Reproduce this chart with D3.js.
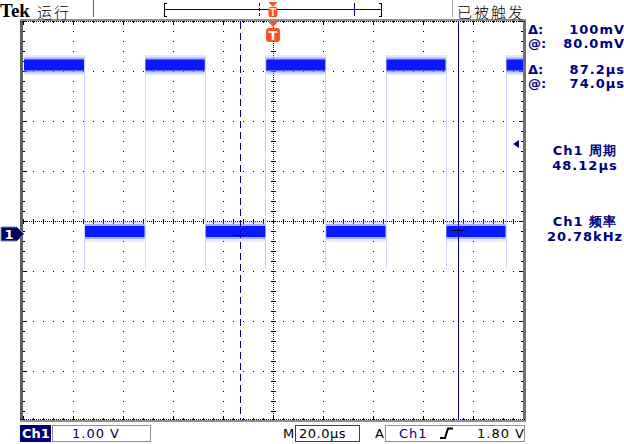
<!DOCTYPE html>
<meta charset="utf-8">
<script src="https://d3js.org/d3.v7.min.js"></script>
<div id="scope"></div>
<style>
body { margin: 0; background: #fff; }
svg { display: block; }
</style>
<script>

// ---- values ----
// edge times in µs relative to the trigger point
var edgeTimes  = [-75.6, -51.4, -27.3, -3.1, 20.9, 45.0, 69.0, 93.0];
var firstLevel = "high";
var highLevel = 3.38, lowLevel = 0.05;          // volts
var cursorTimes  = [-13.2, 74.0];               // µs
var cursorLevels = [-0.02, 0.08];               // V
var triggerLevel = 1.80;                        // V

var readoutLabels = ["Δ:", "@:", "Δ:", "@:"];
var readoutValues = ["100mV", "80.0mV", "87.2µs", "74.0µs"];
var measureLabels = ["Ch1 周期", "Ch1 频率"];
var measureValues = ["48.12µs", "20.78kHz"];

var W = 624, H = 444;
var navy = "#000080", orange = "#ff5020";

var svg = d3.select("#scope").append("svg")
    .attr("width", W).attr("height", H)
    .style("font-family", "'DejaVu Sans', sans-serif");

// screen: 10 div x 8 div, 50px each
var x = d3.scaleLinear().domain([-100, 100]).range([23, 523]);     // 20 µs/div
var y = d3.scaleLinear().domain([-3.74, 4.26]).range([421, 21]);   // 1 V/div, ground at marker
var recBar = d3.scaleLinear().domain([-100, 100]).range([164, 382]);

var g = svg.append("g").attr("shape-rendering", "crispEdges");

// ---- graticule ----
var minorX = d3.range(-100, 100.1, 4);     // every 10px
var minorY = d3.range(0, 40.1, 1).map(function(i){ return 21 + i*10; });
var majorX = d3.range(-80, 81, 20).filter(function(d){ return d != 0; });
var majorY = d3.range(1, 8).map(function(i){ return 21 + i*50; }).filter(function(d){ return d != 221; });

// dots along major grid lines
var dots = [];
majorX.forEach(function(t){ minorY.forEach(function(py){ dots.push([Math.round(x(t)), py]); }); });
majorY.forEach(function(py){ minorX.forEach(function(t){ dots.push([Math.round(x(t)), py]); }); });
g.selectAll("rect.dot").data(dots).enter().append("rect")
    .attr("class", "dot")
    .attr("x", function(d){ return d[0]; }).attr("y", function(d){ return d[1]; })
    .attr("width", 1).attr("height", 1).attr("fill", "#000");

// center cross: fine dotted lines with minor ticks
g.append("line").attr("x1", 23).attr("x2", 523).attr("y1", 221.5).attr("y2", 221.5)
    .attr("stroke", "#000").attr("stroke-dasharray", "1,1");
g.append("line").attr("x1", 273.5).attr("x2", 273.5).attr("y1", 21).attr("y2", 421)
    .attr("stroke", "#000").attr("stroke-dasharray", "1,1");
g.selectAll("line.tx").data(minorX).enter().append("line")
    .attr("class", "tx")
    .attr("x1", function(d){ return Math.round(x(d)) + 0.5; })
    .attr("x2", function(d){ return Math.round(x(d)) + 0.5; })
    .attr("y1", 219).attr("y2", 224).attr("stroke", "#000");
g.selectAll("line.ty").data(minorY).enter().append("line")
    .attr("class", "ty")
    .attr("y1", function(d){ return d + 0.5; }).attr("y2", function(d){ return d + 0.5; })
    .attr("x1", 271).attr("x2", 276).attr("stroke", "#000");

// border ticks
g.selectAll("line.bt").data(minorX).enter().append("line")
    .attr("class", "bt")
    .attr("x1", function(d){ return Math.round(x(d)) + 0.5; })
    .attr("x2", function(d){ return Math.round(x(d)) + 0.5; })
    .attr("y1", 21).attr("y2", function(d){ return d % 20 == 0 ? 25 : 23; }).attr("stroke", "#000");
g.selectAll("line.bb").data(minorX).enter().append("line")
    .attr("class", "bb")
    .attr("x1", function(d){ return Math.round(x(d)) + 0.5; })
    .attr("x2", function(d){ return Math.round(x(d)) + 0.5; })
    .attr("y1", function(d){ return d % 20 == 0 ? 416 : 418; }).attr("y2", 420).attr("stroke", "#000");
g.selectAll("line.bl").data(minorY).enter().append("line")
    .attr("class", "bl")
    .attr("y1", function(d){ return d + 0.5; }).attr("y2", function(d){ return d + 0.5; })
    .attr("x1", 23).attr("x2", function(d){ return (d - 21) % 50 == 0 ? 27 : 25; }).attr("stroke", "#000");
g.selectAll("line.br").data(minorY).enter().append("line")
    .attr("class", "br")
    .attr("y1", function(d){ return d + 0.5; }).attr("y2", function(d){ return d + 0.5; })
    .attr("x1", function(d){ return (d - 21) % 50 == 0 ? 519 : 521; }).attr("x2", 523).attr("stroke", "#000");

// frame
g.append("rect").attr("x", 20).attr("y", 19).attr("width", 3).attr("height", 403).attr("fill", "#606060");
g.append("rect").attr("x", 523).attr("y", 19).attr("width", 3).attr("height", 403).attr("fill", "#707070");
g.append("rect").attr("x", 20).attr("y", 19).attr("width", 506).attr("height", 2).attr("fill", "#909090");
g.append("rect").attr("x", 20).attr("y", 420).attr("width", 506).attr("height", 2).attr("fill", "#909090");
g.append("line").attr("x1", 20).attr("x2", 526).attr("y1", 21.5).attr("y2", 21.5)
    .attr("stroke", "#000").attr("stroke-dasharray", "1,1");
g.append("line").attr("x1", 20).attr("x2", 526).attr("y1", 419.5).attr("y2", 419.5)
    .attr("stroke", "#000").attr("stroke-dasharray", "1,1");

// ---- waveform ----
var segs = [], lvl = firstLevel, t0 = -100;
edgeTimes.forEach(function(t){
  segs.push({t0: t0, t1: t, v: lvl == "high" ? highLevel : lowLevel});
  lvl = lvl == "high" ? "low" : "high";
  t0 = t;
});
segs.push({t0: t0, t1: 100, v: lvl == "high" ? highLevel : lowLevel});

var wave = svg.append("g");
// faint persistence at the edges
wave.selectAll("line.edge").data(edgeTimes).enter().append("line")
    .attr("x1", function(d){ return Math.round(x(d)) + 0.5; })
    .attr("x2", function(d){ return Math.round(x(d)) + 0.5; })
    .attr("y1", y(highLevel + 0.2)).attr("y2", y(lowLevel - 0.75))
    .attr("stroke", "#d0d4ff").attr("stroke-width", 1);
[[20, "#aab0ff", 0.3], [15, "#5a66ff", 0.45], [11, "#0818ff", 1]].forEach(function(layer){
  wave.selectAll(null).data(segs).enter().append("rect")
      .attr("x", function(d){ return x(d.t0) + 1; })
      .attr("width", function(d){ return x(d.t1) - x(d.t0) - 1; })
      .attr("y", function(d){ return y(d.v) - layer[0] / 2; })
      .attr("height", layer[0])
      .attr("fill", layer[1]).attr("opacity", layer[2]);
});

// ---- cursors ----
svg.selectAll("line.cur").data(cursorTimes).enter().append("line")
    .attr("x1", function(d){ return Math.round(x(d)) + 0.5; })
    .attr("x2", function(d){ return Math.round(x(d)) + 0.5; })
    .attr("y1", 22).attr("y2", 420)
    .attr("stroke", navy).attr("stroke-width", 1)
    .attr("stroke-dasharray", function(d, i){ return i == 0 ? "7,4" : null; })
    .attr("shape-rendering", "crispEdges");
svg.selectAll("line.curh").data(cursorTimes).enter().append("line")
    .attr("x1", function(d){ return x(d) - 7; })
    .attr("x2", function(d){ return x(d) + 7; })
    .attr("y1", function(d, i){ return y(cursorLevels[i]) + 0.5; })
    .attr("y2", function(d, i){ return y(cursorLevels[i]) + 0.5; })
    .attr("stroke", "#000040").attr("stroke-width", 1)
    .attr("shape-rendering", "crispEdges");

// ground marker (channel 1)
var gy = y(0);
svg.append("path")
    .attr("d", "M1," + (gy - 7) + "H17L24," + gy + "L17," + (gy + 7) + "H1Z")
    .attr("fill", "#000060").attr("stroke", "#8090c0");
svg.append("text").attr("x", 9).attr("y", gy + 5).attr("text-anchor", "middle")
    .attr("font-size", 13).attr("font-weight", "bold").attr("fill", "#fff").text("1");

// trigger level marker
var ty = y(triggerLevel);
svg.append("path").attr("d", "M513," + ty + "L519," + (ty - 4) + "V" + (ty + 4) + "Z").attr("fill", navy);

// trigger position marker under the top edge
var tx = x(0);
svg.append("path").attr("d", "M" + (tx - 5.5) + ",21H" + (tx + 5.5) + "L" + tx + ",27Z").attr("fill", orange);
svg.append("rect").attr("x", tx - 7).attr("y", 28).attr("width", 14).attr("height", 14).attr("rx", 3).attr("fill", orange);
svg.append("text").attr("x", tx).attr("y", 40).attr("text-anchor", "middle")
    .attr("font-size", 13).attr("font-weight", "bold").attr("fill", "#fff").text("T");

// ---- top bar ----
svg.append("text").attr("x", 0).attr("y", 17).attr("font-family", "'Liberation Serif', serif")
    .attr("font-size", 19).attr("font-weight", "bold").attr("fill", "#000").text("Tek");
svg.append("text").attr("x", 37).attr("y", 17.5).attr("font-family", "'Noto Sans CJK SC'")
    .attr("font-size", 15).attr("font-weight", 300).attr("letter-spacing", 2).attr("fill", "#000").text("运行");
svg.append("text").attr("x", 457).attr("y", 17.5).attr("font-family", "'Noto Sans CJK SC'")
    .attr("font-size", 15).attr("font-weight", 300).attr("letter-spacing", 2).attr("fill", "#000").text("已被触发");
svg.append("rect").attr("x", 93).attr("y", 0).attr("width", 1).attr("height", 17).attr("fill", "#606060");
svg.append("rect").attr("x", 452).attr("y", 0).attr("width", 1).attr("height", 17).attr("fill", "#a0a0a0");

// record bar with brackets
var rb = svg.append("g").attr("shape-rendering", "crispEdges");
rb.append("line").attr("x1", recBar(-100)).attr("x2", recBar(100)).attr("y1", 9.5).attr("y2", 9.5).attr("stroke", "#000050");
rb.append("path").attr("d", "M" + (recBar(-100) + 3) + ",3.5H" + (recBar(-100) + 0.5) + "V16.5H" + (recBar(-100) + 3))
    .attr("fill", "none").attr("stroke", "#000");
rb.append("path").attr("d", "M" + (recBar(100) - 3) + ",3.5H" + (recBar(100) - 0.5) + "V16.5H" + (recBar(100) - 3))
    .attr("fill", "none").attr("stroke", "#000");
rb.selectAll("line.rc").data(cursorTimes).enter().append("line")
    .attr("x1", function(d){ return Math.round(recBar(d)) + 0.5; })
    .attr("x2", function(d){ return Math.round(recBar(d)) + 0.5; })
    .attr("y1", 3).attr("y2", 16)
    .attr("stroke", navy)
    .attr("stroke-dasharray", function(d, i){ return i == 0 ? "3,2" : null; });
svg.append("path").attr("d", "M" + (recBar(0) - 4.5) + ",2H" + (recBar(0) + 4.5) + "L" + recBar(0) + ",7Z").attr("fill", orange);
svg.append("rect").attr("x", recBar(0) - 4.5).attr("y", 7).attr("width", 9).attr("height", 10).attr("rx", 2).attr("fill", orange);
svg.append("text").attr("x", recBar(0)).attr("y", 16).attr("text-anchor", "middle")
    .attr("font-size", 10).attr("font-weight", "bold").attr("fill", "#ffd0c0").text("T");

// ---- right side readouts ----
var rd = svg.append("g").attr("fill", navy).attr("font-weight", "bold").attr("font-size", 13);
var rowY = [34, 48, 74, 88];
rd.selectAll("text.lab").data(readoutLabels).enter().append("text")
    .attr("x", 528).attr("y", function(d, i){ return rowY[i]; }).text(function(d){ return d; });
rd.selectAll("text.val").data(readoutValues).enter().append("text")
    .attr("x", 625).attr("y", function(d, i){ return rowY[i]; })
    .attr("text-anchor", "end").attr("letter-spacing", 1).text(function(d){ return d; });

var ms = svg.append("g").attr("fill", navy).attr("font-weight", "bold").attr("font-size", 13)
    .attr("text-anchor", "middle");
var mY = [155, 226];
ms.selectAll("text.ml").data(measureLabels).enter().append("text")
    .attr("x", 585).attr("y", function(d, i){ return mY[i]; }).attr("letter-spacing", 1)
    .text(function(d){ return d; });
ms.selectAll("text.mv").data(measureValues).enter().append("text")
    .attr("x", 585).attr("y", function(d, i){ return mY[i] + 15; }).attr("letter-spacing", 1)
    .text(function(d){ return d; });

// ---- bottom bar ----
var bb = svg.append("g").attr("font-size", 13).attr("letter-spacing", 1);
bb.append("rect").attr("x", 20).attr("y", 425).attr("width", 31).attr("height", 17).attr("fill", "#000070");
bb.append("text").attr("x", 22).attr("y", 438).attr("fill", "#fff").attr("letter-spacing", 0).attr("font-weight", "bold").text("Ch1");
bb.append("rect").attr("x", 52.5).attr("y", 425.5).attr("width", 98).attr("height", 16).attr("fill", "none").attr("stroke", "#909090");
bb.append("text").attr("x", 72).attr("y", 438).attr("fill", "#000060").text("1.00 V");
bb.append("text").attr("x", 283).attr("y", 438).attr("fill", "#000").attr("letter-spacing", 0).text("M");
bb.append("rect").attr("x", 295.5).attr("y", 425.5).attr("width", 64).attr("height", 16).attr("fill", "none").attr("stroke", "#404040");
bb.append("text").attr("x", 299).attr("y", 438).attr("fill", "#000").attr("letter-spacing", 0.5).text("20.0µs");
bb.append("text").attr("x", 375).attr("y", 438).attr("fill", "#000").attr("letter-spacing", 0).text("A");
bb.append("rect").attr("x", 385.5).attr("y", 425.5).attr("width", 139).attr("height", 16).attr("fill", "none").attr("stroke", "#909090");
bb.append("text").attr("x", 399).attr("y", 438).attr("fill", navy).text("Ch1");
bb.append("path").attr("d", "M440,438H445L448,428.5H453").attr("fill", "none").attr("stroke", "#000").attr("stroke-width", 2);
bb.append("text").attr("x", 477).attr("y", 438).attr("fill", "#000").text("1.80 V");

</script>
